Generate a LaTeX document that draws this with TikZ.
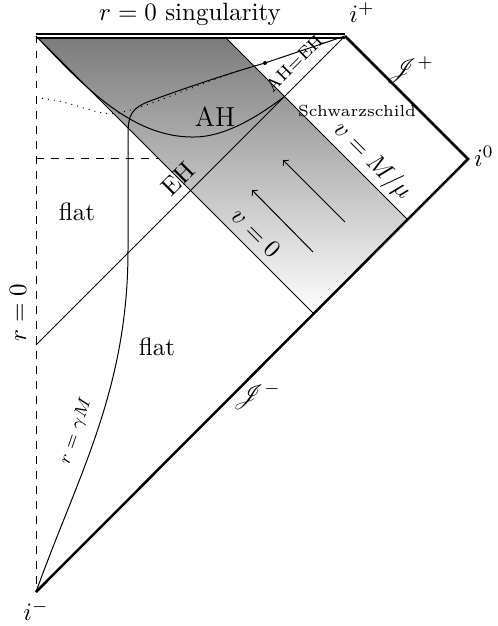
\documentclass[tikz,border=0pt]{standalone}
\usepackage{mathrsfs}
\begin{document}
\begin{tikzpicture}[x=0.4pt,y=-0.4pt,
  scri/.style={line width=1pt},
  sing/.style={line width=1pt,double,double distance=0.45pt},
  lbl/.style={inner sep=0pt},
  small lbl/.style={inner sep=0pt,font=\scriptsize},
  flow/.style={->}]
\useasboundingbox (0,0) rectangle (498,626);
% key points
\coordinate (tl) at (36,36);
\coordinate (ip) at (345,36);
\coordinate (io) at (468,159);
\coordinate (im) at (36,592);
\coordinate (sh) at (224,36);
\coordinate (v0b) at (314,314);
\coordinate (vmb) at (408,220);
\coordinate (ehs) at (36,345);
\coordinate (ahend) at (284.5,96.5);
\coordinate (dl) at (36,159);
\coordinate (dr) at (159,159);
% shell
\fill[top color=black!52,bottom color=white] (tl) -- (sh) -- (vmb) -- (v0b) -- cycle;
% r=0 axis
\draw[dashed] (tl) -- (im);
\draw[dashed] (dl) -- (dr);
% null lines
\draw (tl) -- (v0b);
\draw (sh) -- (vmb);
\draw (ehs) -- (ip);
% scri
\draw[scri] (im) -- (io) -- (ip);
% singularity
\draw[sing] (tl) -- (ip);
% dotted curve
\draw[dotted] (36,98) .. controls (75,100) and (95,117) .. (118,113)
  .. controls (150,107) and (205,80) .. (258,65);
% r = gamma M curve
\draw (im) .. controls (78,475) and (128,390) .. (128,250) -- (128,135)
  .. controls (128,114) and (132,108) .. (150,101)
  .. controls (185,88) and (230,73) .. (265,63) -- (ip);
\fill (265,63) circle[radius=2];
% apparent horizon
\draw (tl) .. controls (80,82) and (130,138) .. (194,137)
  .. controls (226,137) and (260,115) .. (ahend);
% arrows
\draw[flow] (345,222) -- (283,160);
\draw[flow] (313,252) -- (252,190);
% labels
\node[lbl] (tsing) at (190,14) {$r=0$ singularity};
\node[lbl] (tip) at (362,13) {$i^+$};
\node[lbl] (tio) at (484,156) {$i^0$};
\node[lbl] (tim) at (36,611) {$i^-$};
\node[lbl] (tjp) at (410,70) {$\mathscr{J}^+$};
\node[lbl] (tjm) at (257,396) {$\mathscr{J}^-$};
\node[lbl] (tf1) at (77,212) {flat};
\node[lbl] (tf2) at (157,347) {flat};
\node[lbl,rotate=90] (tr0) at (18,313) {$r=0$};
\node[small lbl,rotate=71] (trg) at (76,431) {$r=\gamma M$};
\node[lbl,font=\fontsize{6.4}{7}\selectfont] (tsw) at (357,111) {Schwarzschild};
\node[lbl,font=\fontsize{11}{13}\selectfont] (tah) at (215,117) {AH};
\node[small lbl,rotate=45] (taheh) at (294,63) {AH=EH};
\node[lbl,rotate=45] (teh) at (178,179) {EH};
\node[lbl,rotate=-45] (tv0) at (256,233) {$v=0$};
\node[lbl,rotate=-45] (tvm) at (372,161) {$v=M/\mu$};
\end{tikzpicture}
\end{document}
